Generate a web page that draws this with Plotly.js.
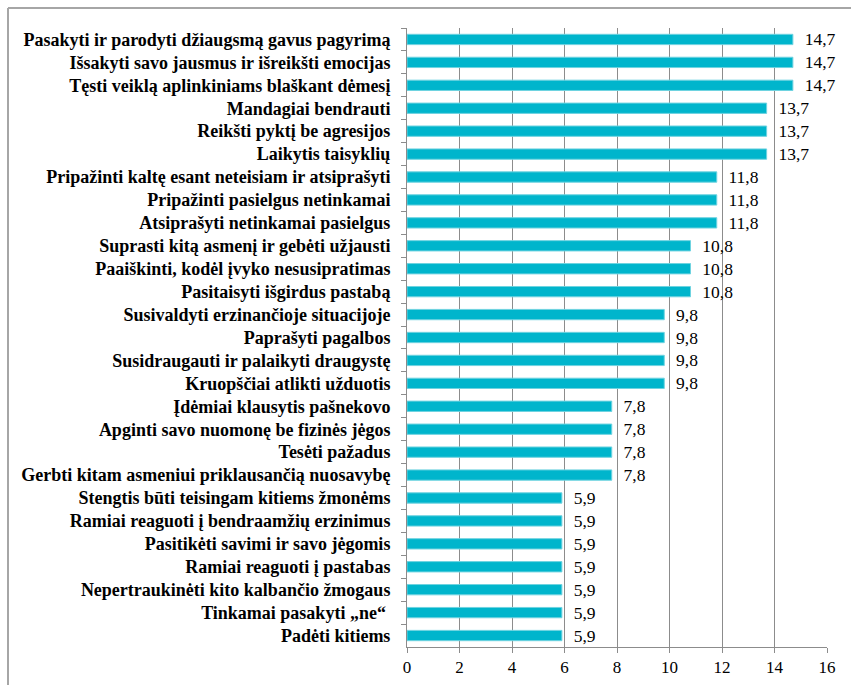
<!DOCTYPE html>
<html><head><meta charset="utf-8">
<script src="https://cdn.plot.ly/plotly-3.0.1.min.js"></script>
<style>html,body{margin:0;padding:0;background:#fff}#c{width:851px;height:685px}</style>
</head><body><div id="c"></div>
<script>
const categories = [
"Pasakyti ir parodyti džiaugsmą gavus pagyrimą",
"Išsakyti savo jausmus ir išreikšti emocijas",
"Tęsti veiklą aplinkiniams blaškant dėmesį",
"Mandagiai bendrauti",
"Reikšti pyktį be agresijos",
"Laikytis taisyklių",
"Pripažinti kaltę esant neteisiam ir atsiprašyti",
"Pripažinti pasielgus netinkamai",
"Atsiprašyti netinkamai pasielgus",
"Suprasti kitą asmenį ir gebėti užjausti",
"Paaiškinti, kodėl įvyko nesusipratimas",
"Pasitaisyti išgirdus pastabą",
"Susivaldyti erzinančioje situacijoje",
"Paprašyti pagalbos",
"Susidraugauti ir palaikyti draugystę",
"Kruopščiai atlikti užduotis",
"Įdėmiai klausytis pašnekovo",
"Apginti savo nuomonę be fizinės jėgos",
"Tesėti pažadus",
"Gerbti kitam asmeniui priklausančią nuosavybę",
"Stengtis būti teisingam kitiems žmonėms",
"Ramiai reaguoti į bendraamžių erzinimus",
"Pasitikėti savimi ir savo jėgomis",
"Ramiai reaguoti į pastabas",
"Nepertraukinėti kito kalbančio žmogaus",
"Tinkamai pasakyti „ne“ ",
"Padėti kitiems"
];
const values = [14.7,14.7,14.7,13.7,13.7,13.7,11.8,11.8,11.8,10.8,10.8,10.8,9.8,9.8,9.8,9.8,7.8,7.8,7.8,7.8,5.9,5.9,5.9,5.9,5.9,5.9,5.9];
const xTicks = [0,2,4,6,8,10,12,14,16];

const serif = 'Liberation Serif';
Plotly.newPlot('c', [{
  type: 'bar', orientation: 'h',
  y: categories, x: values,
  marker: {color: '#00B5CC', line: {color: '#6fd3e0', width: 1}},
  width: 0.45,
  texttemplate: '\u00a0\u00a0%{x:.1f}',
  textposition: 'outside',
  constraintext: 'none',
  cliponaxis: false,
  textfont: {family: serif, size: 17.5, color: '#000'},
  hoverinfo: 'none'
}], {
  width: 851, height: 685,
  separators: ',.',
  font: {family: serif},
  margin: {l: 407, r: 24, t: 28, b: 38},
  paper_bgcolor: '#fff', plot_bgcolor: '#fff',
  showlegend: false,
  bargap: 0.5,
  xaxis: {
    range: [0, 16], tickvals: xTicks, ticktext: xTicks.map(String),
    showgrid: true, gridcolor: '#8c8c8c', gridwidth: 1,
    showline: true, linecolor: '#8c8c8c', linewidth: 1,
    ticks: 'outside', ticklen: 5, tickcolor: '#8c8c8c',
    zeroline: false,
    tickfont: {family: serif, size: 17, color: '#000'}
  },
  yaxis: {
    autorange: 'reversed', type: 'category',
    showline: true, linecolor: '#8c8c8c', linewidth: 1,
    ticks: 'outside', ticklen: 5, tickcolor: '#8c8c8c', tickson: 'boundaries',
    showgrid: false, zeroline: false,
    ticklabelstandoff: 12,
    tickfont: {family: serif, size: 18, color: '#000', weight: 'bold'}
  },
  shapes: [
    {type: 'line', xref: 'paper', yref: 'paper', x0: -0.95, x1: -0.95, y0: 1.0323, y1: -0.2, line: {color: '#a6a6a6', width: 2}},
    {type: 'line', xref: 'paper', yref: 'paper', x0: -0.95, x1: 1.2, y0: 1.0323, y1: 1.0323, line: {color: '#a6a6a6', width: 2}}
  ]
}, {displayModeBar: false, staticPlot: true});
</script></body></html>
